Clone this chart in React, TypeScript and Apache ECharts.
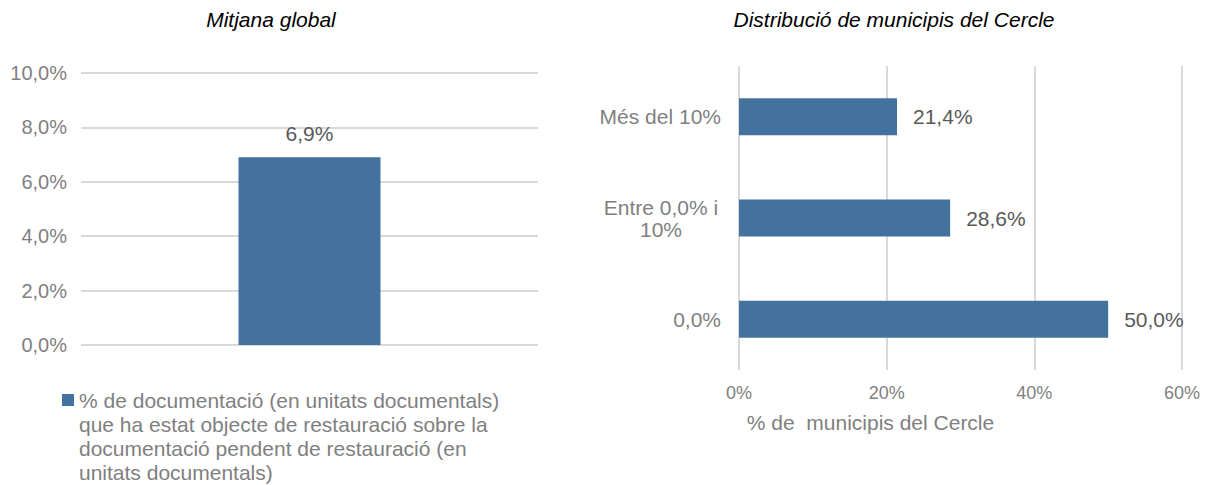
import React, { useEffect, useRef } from "react";
import * as echarts from "echarts";

const FONT = 'Arial, "Liberation Sans", sans-serif';

const leftTitle = "Mitjana global";
const rightTitle = "Distribució de municipis del Cercle";
const leftCategories = [""];
const leftValues = [6.9];
const leftSeriesName =
  "% de documentació (en unitats documentals) que ha estat objecte de restauració sobre la documentació pendent de restauració (en unitats documentals)";
const leftLegendLines = [
  "% de documentació (en unitats documentals)",
  "que ha estat objecte de restauració sobre la",
  "documentació pendent de restauració (en",
  "unitats documentals)",
];
const rightCategories = ["0,0%", "Entre 0,0% i 10%", "Més del 10%"];
const rightValues = [50.0, 28.6, 21.4];
const rightAxisName = "% de  municipis del Cercle";

const BAR = "#44729e";
const GRID = "#d9d9d9";
const AXIS_TXT = "#7f7f7f";
const LABEL_TXT = "#595959";

const fmt1 = (v: number) => v.toFixed(1).replace(".", ",") + "%";

export default function App() {
  const ref = useRef<HTMLDivElement>(null);
  useEffect(() => {
    if (!ref.current) return;
    const chart = echarts.init(ref.current, null, { renderer: "svg" });
    chart.setOption({
      animation: false,
      backgroundColor: "#ffffff",
      textStyle: { fontFamily: FONT },
      title: [
        {
          text: leftTitle,
          left: 266,
          top: 4,
          textAlign: "center",
          textStyle: { fontSize: 21, fontStyle: "italic", fontWeight: "normal", color: "#000", fontFamily: FONT },
        },
        {
          text: rightTitle,
          left: 889,
          top: 4,
          textAlign: "center",
          textStyle: { fontSize: 21, fontStyle: "italic", fontWeight: "normal", color: "#000", fontFamily: FONT },
        },
      ],
      legend: {
        data: [leftSeriesName],
        left: 57,
        top: 311,
        icon: "rect",
        itemWidth: 12,
        itemHeight: 12,
        itemGap: 5,
        selectedMode: false,
        formatter: () => "\n\n\n" + leftLegendLines.join("\n"),
        textStyle: {
          fontSize: 21,
          lineHeight: 24,
          color: AXIS_TXT,
          fontFamily: FONT,
        },
      },
      grid: [
        { left: 81, right: 672, top: 73, bottom: 140, containLabel: false },
        { left: 739, right: 28, top: 66, bottom: 115, containLabel: false },
      ],
      xAxis: [
        {
          type: "category",
          gridIndex: 0,
          data: leftCategories,
          axisLine: { show: false },
          axisTick: { show: false },
          axisLabel: { show: false },
        },
        {
          type: "value",
          gridIndex: 1,
          min: 0,
          max: 60,
          interval: 20,
          axisLine: { show: false },
          axisTick: { show: false },
          axisLabel: {
            formatter: (v: number) => v + "%",
            color: AXIS_TXT,
            fontSize: 18,
            fontFamily: FONT,
            margin: 14,
          },
          splitLine: { show: true, lineStyle: { color: GRID, width: 2 } },
          name: rightAxisName,
          nameLocation: "middle",
          nameGap: 42,
          nameTextStyle: {
            color: AXIS_TXT,
            fontSize: 21,
            fontFamily: FONT,
            padding: [0, 180, 0, 0],
          },
        },
      ],
      yAxis: [
        {
          type: "value",
          gridIndex: 0,
          min: 0,
          max: 10,
          interval: 2,
          axisLine: { show: false },
          axisTick: { show: false },
          axisLabel: {
            formatter: (v: number) => fmt1(v),
            color: AXIS_TXT,
            fontSize: 20,
            fontFamily: FONT,
            margin: 14,
          },
          splitLine: { show: true, lineStyle: { color: GRID, width: 2 } },
        },
        {
          type: "category",
          gridIndex: 1,
          data: rightCategories,
          axisLine: { show: false },
          axisTick: { show: false },
          axisLabel: {
            color: AXIS_TXT,
            fontSize: 21,
            fontFamily: FONT,
            margin: 18,
            formatter: (v: string) => {
              if (v === "Entre 0,0% i 10%") return "{c|Entre 0,0% i}\n{c|10%}";
              return v;
            },
            rich: {
              c: { width: 120, align: "center", fontSize: 21, lineHeight: 22, color: AXIS_TXT, fontFamily: FONT },
            },
          },
        },
      ],
      series: [
        {
          name: leftSeriesName,
          type: "bar",
          xAxisIndex: 0,
          yAxisIndex: 0,
          data: leftValues,
          barWidth: 142,
          itemStyle: { color: BAR },
          label: {
            show: true,
            position: "top",
            distance: 13,
            formatter: (p: any) => fmt1(p.value),
            color: LABEL_TXT,
            fontSize: 21,
            fontFamily: FONT,
          },
        },
        {
          name: "Distribució",
          type: "bar",
          xAxisIndex: 1,
          yAxisIndex: 1,
          data: rightValues,
          barWidth: 37,
          itemStyle: { color: BAR },
          label: {
            show: true,
            position: "right",
            distance: 16,
            formatter: (p: any) => fmt1(p.value),
            color: LABEL_TXT,
            fontSize: 21,
            fontFamily: FONT,
          },
        },
      ],
    });
    return () => chart.dispose();
  }, []);
  return (
    <div
      ref={ref}
      style={{ position: "fixed", left: 0, top: 0, width: 1210, height: 485 }}
    />
  );
}
